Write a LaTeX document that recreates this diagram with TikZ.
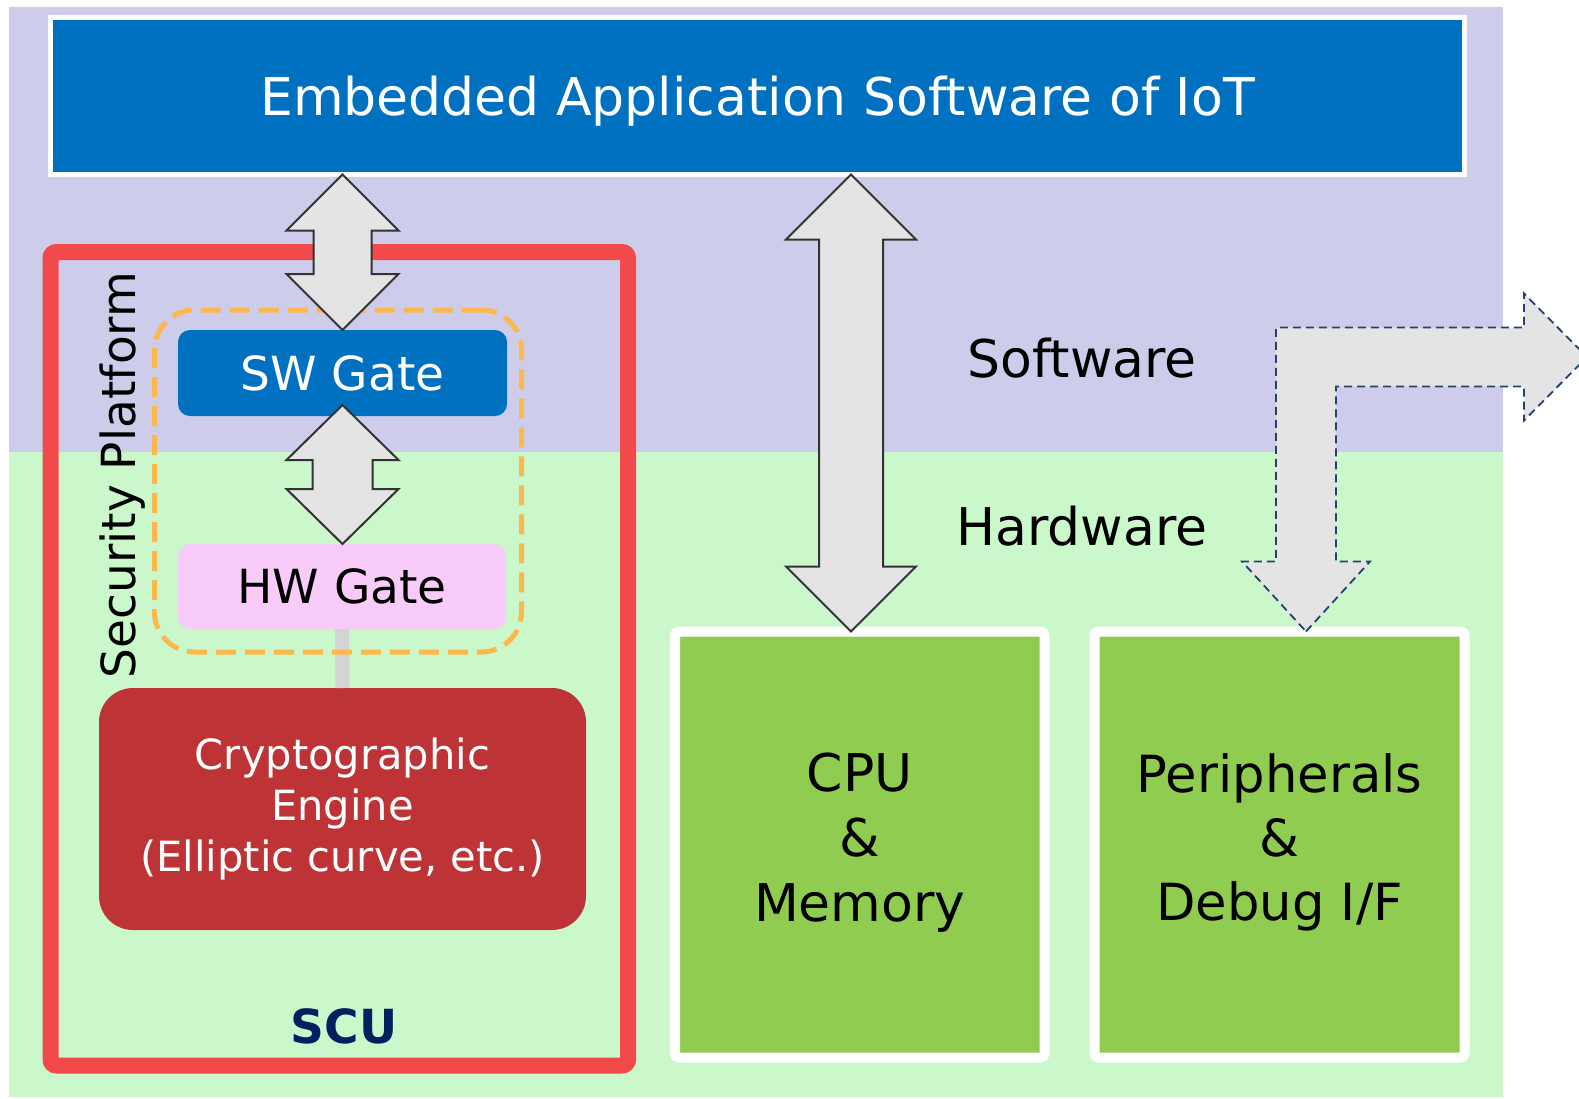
\documentclass[tikz,border=0pt]{standalone}
\usepackage{fontspec}
\setmainfont{DejaVu Sans}
\usetikzlibrary{calc}

\definecolor{swbg}{HTML}{CDCDEB}
\definecolor{hwbg}{HTML}{CBF8CB}
\definecolor{appblue}{HTML}{0070C0}
\definecolor{scured}{HTML}{F24A4A}
\definecolor{gateorange}{HTML}{FCB84A}
\definecolor{hwpink}{HTML}{F8CBF9}
\definecolor{cryptored}{HTML}{BE3436}
\definecolor{blockgreen}{HTML}{90CC50}
\definecolor{arrowgray}{HTML}{E4E4E4}
\definecolor{arrowline}{HTML}{333333}
\definecolor{scunavy}{HTML}{002060}
\definecolor{dashnavy}{HTML}{24406E}
\definecolor{linkgray}{HTML}{D4D4D4}

% vertical block double arrow: style, top tip, bottom tip,
% head length, head half width, shaft half width
\newcommand\vdoublearrow[6]{%
  \draw[#1] let \p1=#2, \p2=#3 in
    (\x1,\y1) -- (\x1+#5,\y1-#4) -- (\x1+#6,\y1-#4) -- (\x1+#6,\y2+#4)
    -- (\x1+#5,\y2+#4) -- (\x1,\y2) -- (\x1-#5,\y2+#4) -- (\x1-#6,\y2+#4)
    -- (\x1-#6,\y1-#4) -- (\x1-#5,\y1-#4) -- cycle;}

\begin{document}
\begin{tikzpicture}[x=0.5pt,y=-0.5pt,
  every node/.style={inner sep=0pt, outer sep=0pt},
  appbox/.style={fill=appblue, draw=white, line width=2.5pt, text=white,
    font=\fontsize{26}{31}\selectfont, text depth=0pt},
  gatebox/.style={rounded corners=6pt, font=\fontsize{23.5}{28}\selectfont,
    text depth=0pt},
  cryptobox/.style={fill=cryptored, rounded corners=17pt, text=white,
    align=center, font=\fontsize{20.8}{25.5}\selectfont, text depth=4pt},
  blockbox/.style={fill=blockgreen, draw=white, line width=5pt,
    rounded corners=2pt, align=center, text depth=7pt},
  layertext/.style={anchor=base, font=\fontsize{26}{31}\selectfont},
  scuframe/.style={draw=scured, line width=8pt, rounded corners=3pt},
  gateframe/.style={draw=gateorange, line width=2.5pt,
    dash pattern=on 10pt off 4.5pt, rounded corners=20pt},
  bigarrow/.style={fill=arrowgray, draw=arrowline, line width=1pt},
  dasharrow/.style={fill=arrowgray, draw=dashnavy, line width=0.9pt,
    dash pattern=on 4pt off 2.5pt},
  link/.style={draw=linkgray, line width=7pt},
]
\useasboundingbox (0,0) rectangle (1579,1098);
\clip (0,0) rectangle (1579,1098);
\fill[white] (0,0) rectangle (1579,1098);

% software and hardware layers
\fill[swbg] (9,7) rectangle (1503,452);
\fill[hwbg] (9,452) rectangle (1503,1097);
\node[layertext] (swlabel) at (1082,377) {Software};
\node[layertext] (hwlabel) at (1082,545) {Hardware};

% application software
\node[appbox, minimum width=707pt, minimum height=78.5pt] (title)
  at (757.5,96) {Embedded Application Software of IoT};

% security control unit
\node[scuframe, minimum width=288.75pt, minimum height=406.75pt] (scu)
  at (339.25,658.75) {};
\node[gatebox, fill=appblue, text=white, minimum width=164.5pt,
  minimum height=43pt] (sw) at (342.5,373) {SW Gate};
\node[gatebox, fill=hwpink, minimum width=164pt, minimum height=42.5pt]
  (hw) at (342,586.5) {HW Gate};
\node[cryptobox, minimum width=243.5pt, minimum height=121pt] (crypto)
  at (342.5,809) {Cryptographic\\Engine\\(Elliptic curve, etc.)};
\draw[link] (hw.south) -- (crypto.north);
\node[gateframe, minimum width=183.5pt, minimum height=171pt] (secgate)
  at (338,481) {};
\node[rotate=90, anchor=base, font=\fontsize{23.5}{28}\selectfont]
  (platname) at (135,475) {Security Platform};
\node[anchor=base, font=\bfseries\fontsize{23.5}{28}\selectfont,
  text=scunavy] (scuname) at (344,1043) {SCU};

% other hardware blocks
\node[blockbox, font=\fontsize{26}{32.5}\selectfont, minimum width=184.75pt,
  minimum height=213pt] (cpu) at (859.75,844.5) {CPU\\\&\\Memory};
\node[blockbox, font=\fontsize{25.6}{32}\selectfont, minimum width=185pt,
  minimum height=213pt] (peri) at (1279.5,844.5) {Peripherals\\\&\\Debug I/F};

% interfaces
\vdoublearrow{bigarrow}{(sw.north |- title.south)}{(sw.north)}{28pt}{28pt}{14.5pt}
\vdoublearrow{bigarrow}{($(sw.south)+(0,5.5pt)$)}{(hw.north)}{27.5pt}{28pt}{15pt}
\vdoublearrow{bigarrow}{(851,0 |- title.south)}{(851,0 |- cpu.north)}{32.5pt}{32.5pt}{16pt}

% debug access path
\draw[dasharrow] let \p1=(1306,0 |- peri.north) in
  (\p1) -- ++(32pt,35pt) -- ++(-17pt,0pt) -- ++(0pt,87.5pt)
  -- ++(94pt,0pt) -- ++(0pt,-17pt) -- ++(31.5pt,31.75pt)
  -- ++(-31.5pt,31.75pt) -- ++(0pt,-17pt) -- ++(-124pt,0pt)
  -- ++(0pt,-117pt) -- ++(-17pt,0pt) -- cycle;
\end{tikzpicture}
\end{document}
